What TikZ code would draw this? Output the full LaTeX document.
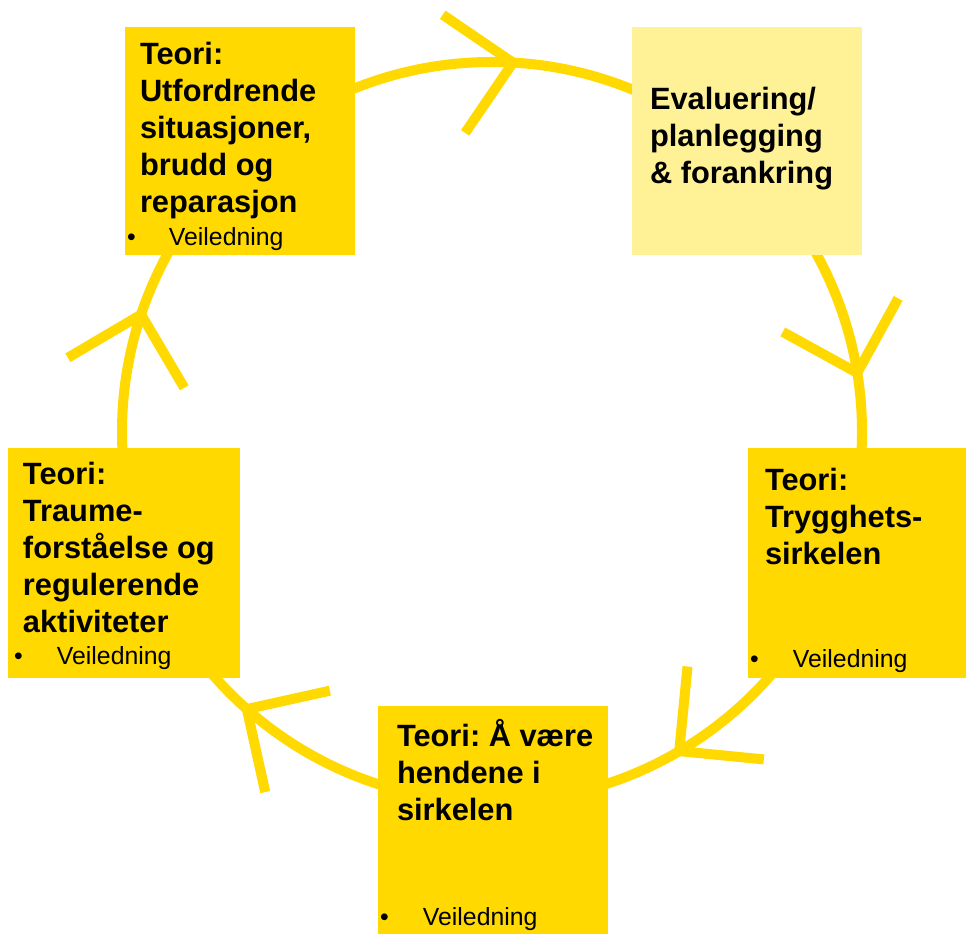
\documentclass[tikz,border=0pt]{standalone}
\usepackage{fontspec}
\setmainfont{Liberation Sans}
\usepackage{xcolor}
\usetikzlibrary{positioning}

\definecolor{ringgold}{RGB}{255,217,0}
\definecolor{evalyellow}{RGB}{255,242,150}

\begin{document}
\frenchspacing
\begin{tikzpicture}[
    x=1pt, y=1pt,
    ring/.style={draw=ringgold, line width=10pt},
    box/.style={rectangle, fill=ringgold, inner sep=0pt,
        minimum width=230pt, minimum height=228pt},
    title/.style={anchor=base west, align=left, inner sep=0pt,
        font=\fontsize{30.8}{37}\selectfont\bfseries},
    tick/.style={anchor=base west, inner sep=0pt,
        font=\fontsize{24.8}{29}\selectfont},
]
\useasboundingbox (0,0) rectangle (966,934);

% Cycle ring
\coordinate (ctr) at (492,502);
\draw[ring] (ctr) circle[radius=370];

% Open arrow heads along the ring (angle / tilt)
\foreach \a/\o in {86.75/14, 9.2/7, -59.6/9, 228.5/9, 161.5/4} {
    \path (ctr) ++(\a:370) coordinate (tip);
    \draw[ring] (tip) ++(\a+90+\o+45:85) -- (tip) -- ++(\a+90+\o-45:85);
}

% Boxes
\node[box] (utford) at (240,793) {};
\node[box, fill=evalyellow] (eval) at (747,793) {};
\node[box, minimum width=218pt, minimum height=230pt] (trygg) at (857,371) {};
\node[box] (hender) at (493,114) {};
\node[box, minimum width=232pt, minimum height=230pt] (traume) at (124,371) {};

% Titles (anchored at the baseline of the last line)
\node[title, xshift=15pt, yshift=-186pt] at (utford.north west)
    {Teori:\\Utfordrende\\situasjoner,\\brudd og\\reparasjon};
\node[title, xshift=18pt, yshift=-157pt] at (eval.north west)
    {Evaluering/\\planlegging\\\& forankring};
\node[title, xshift=17pt, yshift=-117pt] at (trygg.north west)
    {Teori:\\Trygghets-\\sirkelen};
\node[title, xshift=19pt, yshift=-115pt] at (hender.north west)
    {Teori: Å være\\hendene i\\sirkelen};
\node[title, xshift=15pt, yshift=-185pt] at (traume.north west)
    {Teori:\\Traume-\\forståelse og\\regulerende\\aktiviteter};

% Bullet lines
\node[tick, xshift=2pt, yshift=10pt] at (utford.south west)
    {\makebox[42pt][l]{\textbullet}Veiledning};
\node[tick, xshift=2pt, yshift=11pt] at (trygg.south west)
    {\makebox[43pt][l]{\textbullet}Veiledning};
\node[tick, xshift=2pt, yshift=9pt] at (hender.south west)
    {\makebox[43pt][l]{\textbullet}Veiledning};
\node[tick, xshift=6pt, yshift=14pt] at (traume.south west)
    {\makebox[43pt][l]{\textbullet}Veiledning};

\end{tikzpicture}
\end{document}
